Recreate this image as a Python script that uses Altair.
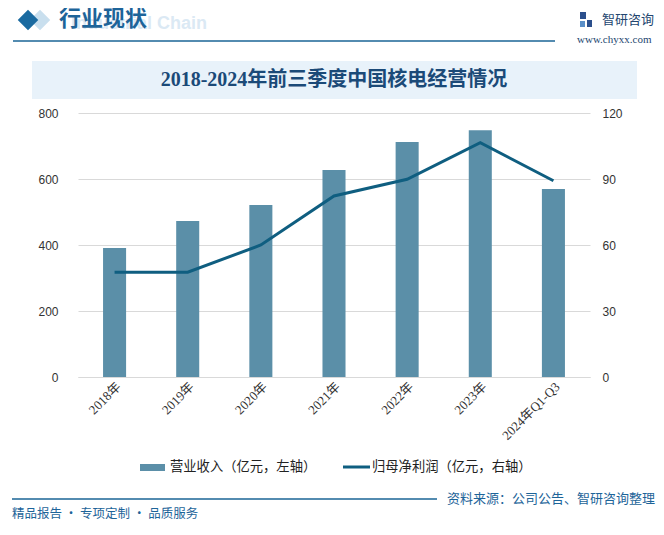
import altair as alt
import pandas as pd

categories = ["2018年", "2019年", "2020年", "2021年", "2022年", "2023年", "2024年Q1-Q3"]
revenue = [391, 473, 521, 627, 712, 748, 570]
profit = [47.6, 47.6, 60.0, 82.3, 89.9, 106.5, 89.2]
left_ticks = [0, 200, 400, 600, 800]
right_ticks = [0, 30, 60, 90, 120]

df = pd.DataFrame({"cat": categories, "rev": revenue, "profit": profit})
one = pd.DataFrame({"k": [0]})

OX, OY = 78, 113
W, H = 512, 264


def X(v):
    return v - OX


def Y(v):
    return v - OY


SANS = "Liberation Sans, Noto Sans CJK SC"
CJK = "Noto Sans CJK SC"
SERIF = "Liberation Serif, Noto Sans CJK SC"
BLUE = "#1a6496"

xenc = alt.X(
    "cat:N", sort=categories,
    scale=alt.Scale(paddingInner=0.685, paddingOuter=0.3425),
    axis=alt.Axis(title=None, labelAngle=315, labelAlign="right", labelBaseline="top",
                  labelFont=SERIF, labelFontSize=13, labelColor="#333333", ticks=False,
                  domainColor="#d9d9d9", labelPadding=3),
)

bars = alt.Chart(df).mark_bar(color="#5b8fa8").encode(
    x=xenc,
    y=alt.Y("rev:Q", scale=alt.Scale(domain=[0, 800]),
            axis=alt.Axis(title=None, values=left_ticks, grid=True, gridColor="#d9d9d9",
                          domain=False, ticks=False, labelPadding=20, labelFont=SANS,
                          labelFontSize=12, labelColor="#333333")),
)

line = alt.Chart(df).mark_line(color="#0f5e80", strokeWidth=3).encode(
    x=xenc,
    y=alt.Y("profit:Q", scale=alt.Scale(domain=[0, 120]),
            axis=alt.Axis(title=None, orient="right", values=right_ticks, grid=False,
                          domain=False, ticks=False, labelPadding=12, labelFont=SANS,
                          labelFontSize=12, labelColor="#333333")),
)


def txt(s, x, y, size, color, align="left", weight="normal", font=CJK, baseline="middle"):
    return alt.Chart(one).mark_text(align=align, baseline=baseline, fontSize=size, color=color,
                                    fontWeight=weight, font=font).encode(
        x=alt.value(X(x)), y=alt.value(Y(y)), text=alt.value(s))


def rect(x1, x2, y1, y2, color):
    return alt.Chart(one).mark_rect(color=color).encode(
        x=alt.value(X(x1)), x2=alt.value(X(x2)), y=alt.value(Y(y1)), y2=alt.value(Y(y2)))


def hline(x1, x2, y, color, w):
    return alt.Chart(one).mark_rule(color=color, strokeWidth=w).encode(
        x=alt.value(X(x1)), x2=alt.value(X(x2)), y=alt.value(Y(y)))


def diamond(x, y, color, size):
    return alt.Chart(one).mark_point(shape="diamond", filled=True, color=color, opacity=1,
                                     size=size).encode(x=alt.value(X(x)), y=alt.value(Y(y)))


decor = [
    txt("Industrial Chain", 207, 24, 18, "#dbe9f4", align="right", weight="bold", font=SANS),
    diamond(40, 20, "#c9dfee", 420),
    diamond(28, 20, "#1a6aa0", 420),
    txt("行业现状", 59, 19, 22, "#1d6499", weight="bold"),
    hline(13, 555, 41, BLUE, 1.5),
    rect(580, 586, 12, 19, "#2b4f8c"),
    rect(587, 592, 20, 27, "#2b4f8c"),
    rect(580, 585, 21, 27, "#5a8fc8"),
    txt("智研咨询", 602, 20, 13, "#23466f"),
    txt("www.chyxx.com", 577, 40, 11, "#23466f", font=SERIF),
    rect(32, 637, 61, 99, "#e8f2fa"),
    txt("2018-2024年前三季度中国核电经营情况", 334, 80, 20, "#1b4a78", align="center",
        weight="bold", font=SERIF),
    rect(140, 165, 464, 471, "#5b8fa8"),
    txt("营业收入（亿元，左轴）", 170, 467, 13.3, "#222222"),
    hline(343, 370, 467, "#0f5e80", 3),
    txt("归母净利润（亿元，右轴）", 372, 467, 13.3, "#222222"),
    hline(12, 437, 499, BLUE, 1.5),
    txt("资料来源：公司公告、智研咨询整理", 655, 499, 13, "#1d6499", align="right"),
    txt("精品报告 · 专项定制 · 品质服务", 12, 514, 12.5, "#1d6499"),
]

chart = alt.layer(bars, line, *decor).resolve_scale(y="independent").properties(
    width=W, height=H,
    autosize=alt.AutoSizeParams(type="none"),
    padding={"left": 70, "top": 105, "right": 66, "bottom": 142},
    background="white",
).configure_view(stroke=None)

chart.save("out.html", embed_options={"renderer": "svg", "actions": False})
